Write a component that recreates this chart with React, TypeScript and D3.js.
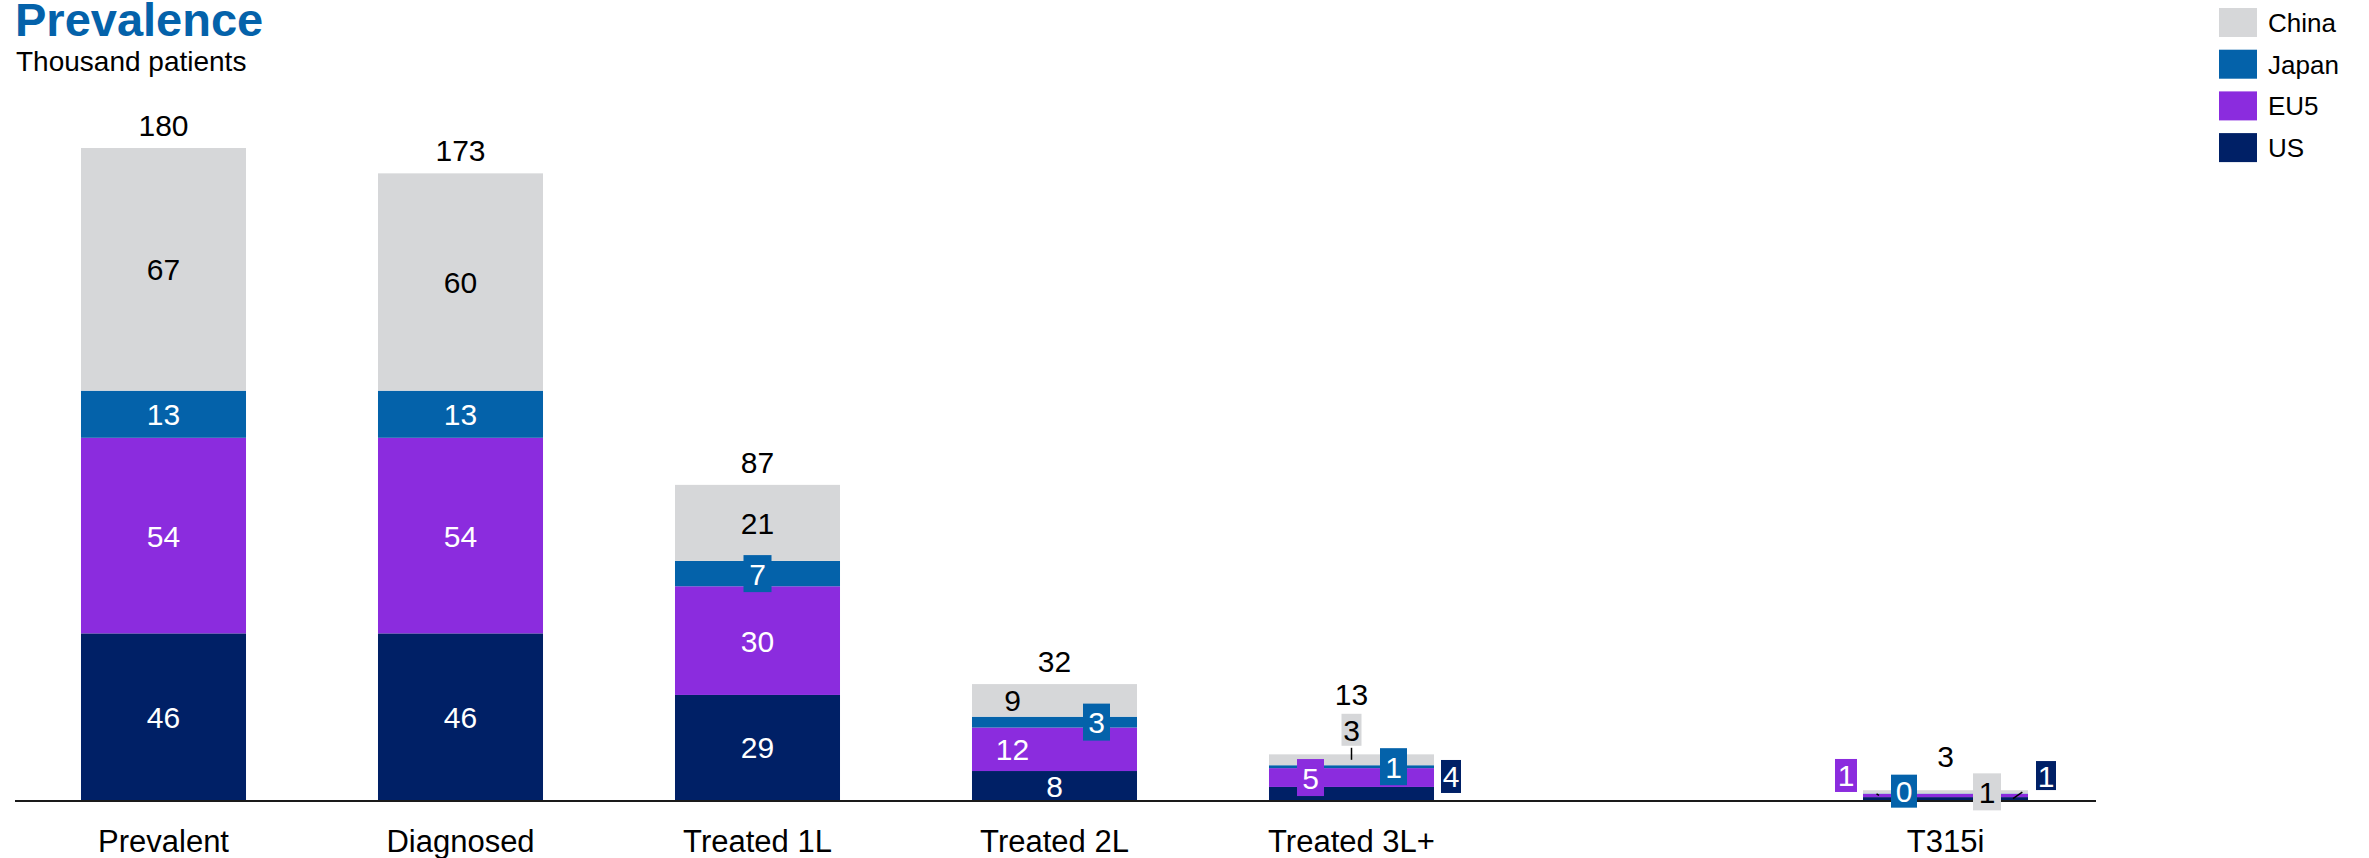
import React from "react";
import * as d3 from "d3";

// ---------- data ----------
const categories = ["Prevalent", "Diagnosed", "Treated 1L", "Treated 2L", "Treated 3L+", "T315i"];
const seriesNames = ["US", "EU5", "Japan", "China"]; // bottom to top
const usValues = [46, 46, 29, 8, 3.6, 0.8];
const eu5Values = [54, 54, 30, 12, 5.2, 0.9];
const japanValues = [13, 13, 7, 3, 0.8, 0.1];
const chinaValues = [67, 60, 21, 9, 3.0, 0.9];
const legendOrder = ["China", "Japan", "EU5", "US"];

// ---------- styling / layout ----------
const W = 2369;
const H = 858;
const colors: Record<string, string> = {
  US: "#002066",
  EU5: "#8B2CDE",
  Japan: "#0462AA",
  China: "#D6D7D9",
};
const textColors: Record<string, string> = {
  US: "#ffffff",
  EU5: "#ffffff",
  Japan: "#ffffff",
  China: "#000000",
};
const FONT = "Liberation Sans, Arial, sans-serif";

// slot domain with an empty slot before T315i
const slots = ["Prevalent", "Diagnosed", "Treated 1L", "Treated 2L", "Treated 3L+", "__gap__", "T315i"];

// label placement tweaks (layout only): key = category|series
type Place = { dx?: number; dy?: number; box?: boolean; bw?: number; bh?: number; leaderDx?: number };
const placements: Record<string, Place> = {
  "Treated 1L|Japan": { box: true, bw: 28, bh: 37 },
  "Treated 2L|China": { dx: -42 },
  "Treated 2L|EU5": { dx: -42 },
  "Treated 2L|Japan": { dx: 42, box: true, bw: 27, bh: 37 },
  "Treated 3L+|China": { dy: -30, box: true, bw: 20, bh: 32, leaderDx: 0 },
  "Treated 3L+|EU5": { dx: -41, box: true, bw: 27, bh: 37 },
  "Treated 3L+|Japan": { dx: 42, box: true, bw: 27, bh: 37 },
  "Treated 3L+|US": { dx: 99.5, dy: -17, box: true, bw: 20, bh: 33, leaderDx: 67.5 },
  "T315i|EU5": { dx: -99.5, dy: -20, box: true, bw: 22, bh: 33, leaderDx: -66.5 },
  "T315i|Japan": { dx: -41.5, dy: -2.5, box: true, bw: 26, bh: 33 },
  "T315i|China": { dx: 41.5, dy: 0, box: true, bw: 28, bh: 37 },
  "T315i|US": { dx: 100.5, dy: -23, box: true, bw: 20, bh: 29, leaderDx: 67.5 },
};
const totalLift: Record<string, number> = {
  "Treated 3L+": 49,
  "T315i": 23,
};

export default function App() {
  const rows = categories.map((c, i) => ({
    category: c,
    US: usValues[i],
    EU5: eu5Values[i],
    Japan: japanValues[i],
    China: chinaValues[i],
  }));
  const stack = d3.stack<any>().keys(seriesNames)(rows);

  const x = d3
    .scaleBand<string>()
    .domain(slots)
    .range([15, 2094])
    .paddingInner(0.4444)
    .paddingOuter(0.2222);
  const y = d3.scaleLinear().domain([0, 180]).range([800, 148]);
  const fmt = (v: number) => String(Math.round(v));

  const baseY = 801;

  const segLabels: any[] = [];
  stack.forEach((layer) => {
    const key = layer.key;
    layer.forEach((d: any, i: number) => {
      const cat = categories[i];
      const cx = (x(cat) as number) + x.bandwidth() / 2;
      const segMid = (y(d[0]) + y(d[1])) / 2;
      const p = placements[cat + "|" + key] || {};
      const lx = cx + (p.dx || 0);
      const ly = segMid + (p.dy || 0);
      let leader: any = null;
      if (p.leaderDx !== undefined) {
        const ax = cx + p.leaderDx;
        const ay = segMid;
        const hw = (p.bw || 24) / 2 + 2;
        const hh = (p.bh || 34) / 2 + 2;
        const vx = lx - ax;
        const vy = ly - ay;
        const tx = vx !== 0 ? (Math.abs(vx) - hw) / Math.abs(vx) : Infinity;
        const ty = vy !== 0 ? (Math.abs(vy) - hh) / Math.abs(vy) : Infinity;
        const m = Math.min(tx, ty);
        const t = m === Infinity ? 0 : Math.max(0, m);
        leader = { x1: ax, y1: ay, x2: ax + vx * t, y2: ay + vy * t };
      }
      segLabels.push({ key, cat, value: d[1] - d[0], lx, ly, p, leader });
    });
  });

  const totals = categories.map((c, i) => usValues[i] + eu5Values[i] + japanValues[i] + chinaValues[i]);

  return (
    <svg
      width={W}
      height={H}
      style={{ position: "absolute", left: 0, top: 0, background: "#fff" }}
      fontFamily={FONT}
    >
      {/* title */}
      <text x={15} y={36} fontSize={47} fontWeight="bold" fill="#0462AA">
        Prevalence
      </text>
      <text x={16} y={71} fontSize={28} fill="#000">
        Thousand patients
      </text>

      {/* bars */}
      {stack.map((layer) => (
        <g key={layer.key}>
          {layer.map((d: any, i: number) => {
            const cat = categories[i];
            return (
              <rect
                key={cat}
                x={x(cat)}
                y={y(d[1])}
                width={x.bandwidth()}
                height={Math.max(0, y(d[0]) - y(d[1]))}
                fill={colors[layer.key]}
              />
            );
          })}
        </g>
      ))}

      {/* axis baseline */}
      <line x1={15} x2={2096} y1={baseY} y2={baseY} stroke="#1a1a1a" strokeWidth={2} />

      {/* segment labels */}
      {segLabels.map((s) => (
        <g key={s.cat + s.key}>
          {s.leader && (
            <line
              x1={s.leader.x1}
              y1={s.leader.y1}
              x2={s.leader.x2}
              y2={s.leader.y2}
              stroke="#000"
              strokeWidth={1.5}
            />
          )}
          {s.p.box && (
            <rect
              x={s.lx - (s.p.bw || 24) / 2}
              y={s.ly - (s.p.bh || 34) / 2}
              width={s.p.bw || 24}
              height={s.p.bh || 34}
              fill={colors[s.key]}
            />
          )}
          <text
            x={s.lx}
            y={s.ly + 11}
            fontSize={30}
            textAnchor="middle"
            fill={textColors[s.key]}
          >
            {fmt(s.value)}
          </text>
        </g>
      ))}

      {/* totals */}
      {categories.map((c, i) => (
        <text
          key={c}
          x={(x(c) as number) + x.bandwidth() / 2}
          y={y(totals[i]) - (totalLift[c] ?? 12)}
          fontSize={30}
          textAnchor="middle"
          fill="#000"
        >
          {fmt(totals[i])}
        </text>
      ))}

      {/* category labels */}
      {categories.map((c) => (
        <text
          key={c}
          x={(x(c) as number) + x.bandwidth() / 2}
          y={852}
          fontSize={31}
          textAnchor="middle"
          fill="#000"
        >
          {c}
        </text>
      ))}

      {/* legend */}
      {legendOrder.map((k, i) => (
        <g key={k} transform={`translate(2219, ${8 + i * 41.7})`}>
          <rect width={38} height={29} fill={colors[k]} />
          <text x={49} y={24} fontSize={26} fill="#000">
            {k}
          </text>
        </g>
      ))}
    </svg>
  );
}
